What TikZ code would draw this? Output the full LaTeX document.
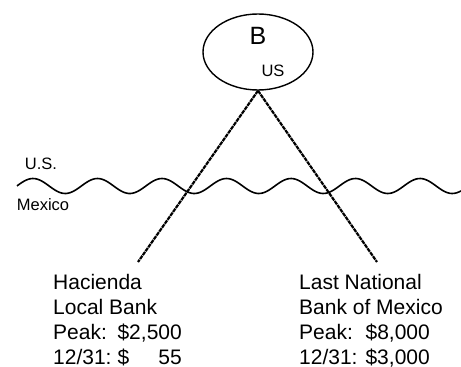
\documentclass[tikz,border=0pt]{standalone}
\usepackage{fontspec}
\setmainfont{Liberation Sans}
\usetikzlibrary{shapes.geometric}
\tikzset{
  bank/.style={draw,ellipse,line width=1.4pt,minimum width=110pt,minimum height=76pt,inner sep=0pt},
  tag/.style={inner sep=0pt,font=\fontsize{16.5}{19}\selectfont},
  info/.style={inner sep=0pt,anchor=base west,font=\fontsize{21}{25}\selectfont},
  loan/.style={line width=2.2pt,dash pattern=on 4pt off 0.8pt},
  border/.style={line width=1.6pt},
}
\begin{document}
\begin{tikzpicture}[x=1pt,y=-1pt]
  \useasboundingbox (0,0) rectangle (461,367);
  % the U.S. bank
  \node[bank] (bank) at (258,52) {};
  \node[inner sep=0pt,font=\fontsize{25}{28}\selectfont] (bname) at (258,36) {B};
  \node[tag] (bloc) at (273,71) {US};

  % the border river
  \draw[border] plot[domain=17:461,samples=200,smooth] (\x,{186-7.5*cos((\x-33)/64.5*360)});
  \node[tag] (us) at (41,164) {U.S.};
  \node[tag] (mx) at (43,205) {Mexico};

  % loans to the two Mexican banks
  \coordinate (hacEnd) at (138,262);
  \coordinate (lnbEnd) at (377,262);
  \draw[loan] (bank.south) -- (hacEnd);
  \draw[loan] (bank.south) -- (lnbEnd);

  \node[info] (hac) at (53,289) {\begin{tabular}[t]{@{}l@{\hspace{6pt}}l@{}}
    \multicolumn{2}{@{}l@{}}{Hacienda}\\
    \multicolumn{2}{@{}l@{}}{Local Bank}\\
    Peak: & \$2,500\\
    12/31: & \$\hphantom{2,5}55
  \end{tabular}};
  \node[info] (lnb) at (299,289) {\begin{tabular}[t]{@{}l@{\hspace{8pt}}l@{}}
    \multicolumn{2}{@{}l@{}}{Last National}\\
    \multicolumn{2}{@{}l@{}}{Bank of Mexico}\\
    Peak: & \$8,000\\
    12/31: & \$3,000
  \end{tabular}};
\end{tikzpicture}
\end{document}
